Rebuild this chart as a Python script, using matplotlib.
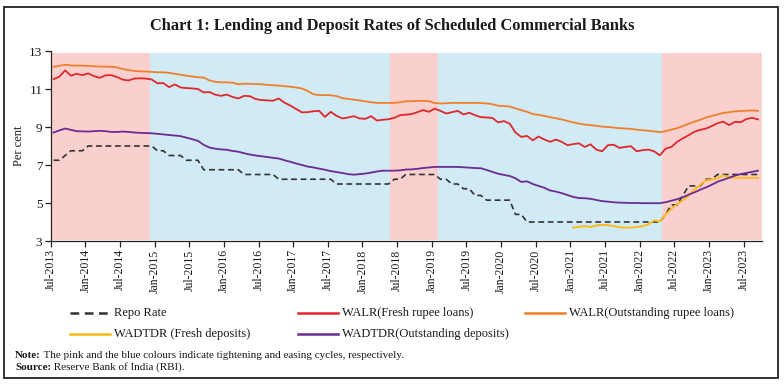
import matplotlib
matplotlib.use("Agg")
import matplotlib.pyplot as plt
from matplotlib.patches import Rectangle
from matplotlib.lines import Line2D
import numpy as np

# ---------------- data (monthly, Jul-2013 .. Sep-2023) ----------------
walr_outstanding = [
    12.17, 12.22, 12.28, 12.24, 12.23, 12.23, 12.22, 12.20, 12.18, 12.18,
    12.17, 12.14, 12.05, 12.00, 11.95, 11.93, 11.92, 11.90, 11.88, 11.88,
    11.85, 11.80, 11.75, 11.70, 11.66, 11.62, 11.60, 11.45, 11.38, 11.35,
    11.35, 11.33, 11.25, 11.28, 11.27, 11.26, 11.25, 11.22, 11.20, 11.18,
    11.15, 11.12, 11.08, 11.03, 10.90, 10.72, 10.68, 10.68, 10.67, 10.63,
    10.52, 10.48, 10.44, 10.40, 10.35, 10.30, 10.27, 10.27, 10.27, 10.27,
    10.30, 10.35, 10.36, 10.37, 10.38, 10.36, 10.26, 10.24, 10.25, 10.27,
    10.27, 10.27, 10.27, 10.27, 10.26, 10.24, 10.20, 10.12, 10.10, 10.08,
    9.98, 9.89, 9.80, 9.68, 9.64, 9.58, 9.52, 9.46, 9.40, 9.32,
    9.24, 9.18, 9.13, 9.10, 9.06, 9.02, 9.00, 8.97, 8.94, 8.92,
    8.90, 8.86, 8.83, 8.80, 8.77, 8.73, 8.78, 8.86, 8.94, 9.05,
    9.17, 9.28, 9.38, 9.50, 9.58, 9.66, 9.74, 9.78, 9.82, 9.84,
    9.86, 9.87, 9.85]

walr_fresh = [
    11.52, 11.65, 11.98, 11.70, 11.80, 11.73, 11.82, 11.68, 11.59, 11.72,
    11.73, 11.63, 11.49, 11.45, 11.55, 11.56, 11.55, 11.50, 11.30, 11.31,
    11.10, 11.24, 11.08, 11.05, 11.03, 11.00, 10.82, 10.84, 10.70, 10.64,
    10.71, 10.58, 10.50, 10.64, 10.62, 10.47, 10.42, 10.40, 10.38, 10.50,
    10.28, 10.13, 9.95, 9.77, 9.78, 9.83, 9.85, 9.53, 9.80, 9.59,
    9.45, 9.50, 9.57, 9.45, 9.43, 9.57, 9.34, 9.38, 9.41, 9.48,
    9.62, 9.65, 9.68, 9.78, 9.89, 9.80, 9.97, 9.85, 9.71, 9.78,
    9.85, 9.66, 9.75, 9.62, 9.52, 9.50, 9.48, 9.24, 9.31, 9.18,
    8.71, 8.48, 8.53, 8.30, 8.50, 8.34, 8.22, 8.34, 8.22, 8.04,
    8.10, 8.14, 7.95, 8.09, 7.81, 7.72, 8.04, 8.07, 7.90, 7.95,
    7.99, 7.72, 7.78, 7.81, 7.72, 7.51, 7.86, 7.95, 8.22, 8.40,
    8.57, 8.75, 8.85, 8.92, 9.05, 9.20, 9.28, 9.10, 9.27, 9.25,
    9.42, 9.48, 9.40]

wadtdr_outstanding = [
    8.71, 8.82, 8.92, 8.85, 8.78, 8.77, 8.76, 8.78, 8.80, 8.78,
    8.74, 8.74, 8.76, 8.74, 8.71, 8.69, 8.68, 8.67, 8.64, 8.61,
    8.58, 8.55, 8.52, 8.44, 8.36, 8.27, 8.06, 7.92, 7.86, 7.82,
    7.80, 7.74, 7.70, 7.62, 7.55, 7.50, 7.46, 7.42, 7.38, 7.34,
    7.25, 7.17, 7.08, 7.00, 6.92, 6.87, 6.81, 6.75, 6.68, 6.63,
    6.58, 6.52, 6.49, 6.52, 6.55, 6.60, 6.66, 6.70, 6.70, 6.70,
    6.72, 6.76, 6.77, 6.80, 6.84, 6.87, 6.90, 6.90, 6.90, 6.90,
    6.90, 6.88, 6.86, 6.84, 6.83, 6.74, 6.64, 6.54, 6.48, 6.42,
    6.30, 6.11, 6.14, 6.00, 5.90, 5.80, 5.66, 5.60, 5.52, 5.42,
    5.32, 5.26, 5.25, 5.22, 5.16, 5.10, 5.07, 5.04, 5.02, 5.01,
    5.00, 5.00, 4.99, 4.99, 4.99, 4.99, 5.04, 5.12, 5.20, 5.30,
    5.44, 5.56, 5.70, 5.82, 5.96, 6.12, 6.22, 6.33, 6.44, 6.52,
    6.58, 6.64, 6.70]

repo_rate = [
    7.25, 7.25, 7.50, 7.75, 7.75, 7.75, 8.00, 8.00, 8.00, 8.00,
    8.00, 8.00, 8.00, 8.00, 8.00, 8.00, 8.00, 8.00, 7.75, 7.75,
    7.50, 7.50, 7.50, 7.25, 7.25, 7.25, 6.75, 6.75, 6.75, 6.75,
    6.75, 6.75, 6.75, 6.50, 6.50, 6.50, 6.50, 6.50, 6.50, 6.25,
    6.25, 6.25, 6.25, 6.25, 6.25, 6.25, 6.25, 6.25, 6.25, 6.00,
    6.00, 6.00, 6.00, 6.00, 6.00, 6.00, 6.00, 6.00, 6.00, 6.25,
    6.25, 6.50, 6.50, 6.50, 6.50, 6.50, 6.50, 6.25, 6.25, 6.00,
    6.00, 5.75, 5.75, 5.40, 5.40, 5.15, 5.15, 5.15, 5.15, 5.15,
    4.40, 4.40, 4.00, 4.00, 4.00, 4.00, 4.00, 4.00, 4.00, 4.00,
    4.00, 4.00, 4.00, 4.00, 4.00, 4.00, 4.00, 4.00, 4.00, 4.00,
    4.00, 4.00, 4.00, 4.00, 4.00, 4.00, 4.40, 4.90, 4.90, 5.40,
    5.90, 5.90, 5.90, 6.25, 6.25, 6.50, 6.50, 6.50, 6.50, 6.50,
    6.50, 6.50, 6.50]

# WADTDR fresh deposits: available from Jan-2021 (month index 90)
wadtdr_fresh_start = 90
wadtdr_fresh = [
    3.70, 3.75, 3.78, 3.73, 3.82, 3.85, 3.84, 3.78, 3.72, 3.70,
    3.71, 3.73, 3.78, 3.87, 4.08, 4.03, 4.40, 4.70, 4.95, 5.14,
    5.40, 5.70, 5.95, 6.20, 6.23, 6.30, 6.45, 6.36, 6.33, 6.33,
    6.33, 6.33, 6.32]

tick_labels = ["Jul-2013", "Jan-2014", "Jul-2014", "Jan-2015", "Jul-2015",
               "Jan-2016", "Jul-2016", "Jan-2017", "Jul-2017", "Jan-2018",
               "Jul-2018", "Jan-2019", "Jul-2019", "Jan-2020", "Jul-2020",
               "Jan-2021", "Jul-2021", "Jan-2022", "Jul-2022", "Jan-2023",
               "Jul-2023"]

# policy cycles (start, end in month index, kind)
cycles = [(0.3, 17.2, "tight"), (17.2, 58.7, "ease"), (58.7, 67.1, "tight"),
          (67.1, 105.9, "ease"), (105.9, 123.2, "tight")]

# ---------------- styling ----------------
SERIF = ["Liberation Serif", "DejaVu Serif"]
plt.rcParams["font.family"] = SERIF
PINK = "#F9D0CE"
BLUE = "#D0EAF6"
C_REPO = "#333333"
C_FRESH = "#E0282A"
C_OUT = "#F07F2A"
C_YEL = "#FDB913"
C_PUR = "#6A2C91"
TXT = "#1a1a1a"

W, H = 784, 386
fig = plt.figure(figsize=(W / 100, H / 100), dpi=100)
fig.patches.append(Rectangle((4 / W, 1 - 378 / H), 774 / W, 371 / H,
                             transform=fig.transFigure, fill=False,
                             edgecolor="#222222", linewidth=1.3))

ax = fig.add_axes([50.7 / W, 1 - 241 / H, (762 - 50.7) / W, (241 - 51) / H])

for a, b, kind in cycles:
    ax.fill_between([a, b], 3.05, 12.88, color=PINK if kind == "tight" else BLUE,
                    linewidth=0, zorder=0)

n = len(repo_rate)
x = np.arange(n) + 0.5
xf = np.arange(wadtdr_fresh_start, wadtdr_fresh_start + len(wadtdr_fresh)) + 0.5

lw = 1.3
DASH = (0, (3.5, 2.2))
ax.plot(x, repo_rate, color=C_REPO, lw=1.2, ls=DASH, zorder=3)
ax.plot(x, walr_fresh, color=C_FRESH, lw=lw, zorder=3)
ax.plot(x, walr_outstanding, color=C_OUT, lw=lw, zorder=3)
ax.plot(xf, wadtdr_fresh, color=C_YEL, lw=lw, zorder=3)
ax.plot(x, wadtdr_outstanding, color=C_PUR, lw=lw, zorder=3)

ax.set_xlim(0, 123.2)
ax.set_ylim(3, 13)
ax.set_yticks([3, 5, 7, 9, 11, 13])
ax.set_xticks(np.arange(len(tick_labels)) * 6)
ax.set_xticklabels(tick_labels, rotation=90, fontsize=8.5, color=TXT)
ax.tick_params(axis="y", labelsize=9.5, length=4, width=0.9, color="#222222",
               pad=2, labelcolor=TXT)
ax.tick_params(axis="x", length=4, width=0.9, color="#222222", pad=2)
for s in ["top", "right"]:
    ax.spines[s].set_visible(False)
for s in ["left", "bottom"]:
    ax.spines[s].set_color("#222222")
    ax.spines[s].set_linewidth(0.9)
ax.set_ylabel("Per cent", fontsize=9, labelpad=3, color=TXT)

fig.text(392 / W, 1 - 26 / H,
         "Chart 1: Lending and Deposit Rates of Scheduled Commercial Banks",
         ha="center", va="center", fontsize=11.8, fontweight="bold", color=TXT)

# legend (manual placement in figure pixels)
leg = [
    ("Repo Rate", C_REPO, DASH, 70, 313),
    ("WALR(Fresh rupee loans)", C_FRESH, "-", 298, 313),
    ("WALR(Outstanding rupee loans)", C_OUT, "-", 525, 313),
    ("WADTDR (Fresh deposits)", C_YEL, "-", 70, 334),
    ("WADTDR(Outstanding deposits)", C_PUR, "-", 298, 334),
]
for label, col, ls, px, py in leg:
    fig.add_artist(Line2D([px / W, (px + 40) / W], [1 - py / H, 1 - py / H],
                          transform=fig.transFigure, color=col, lw=1.8, ls=ls))
    fig.text((px + 44) / W, 1 - py / H, label, ha="left", va="center",
             fontsize=9, color=TXT)

# note & source: bold lead-in followed by regular text
fig.canvas.draw()
renderer = fig.canvas.get_renderer()
for lead, rest, py in [("Note:", " The pink and the blue colours indicate tightening and easing cycles, respectively.", 355),
                       ("Source:", " Reserve Bank of India (RBI).", 367)]:
    t = fig.text(15 / W, 1 - py / H, lead, fontsize=8, fontweight="bold",
                 ha="left", va="center", color=TXT)
    bb = t.get_window_extent(renderer=renderer)
    fig.text(bb.x1 / W, 1 - py / H, rest, fontsize=8, ha="left", va="center",
             color=TXT)

fig.savefig("out.png", dpi=100)
